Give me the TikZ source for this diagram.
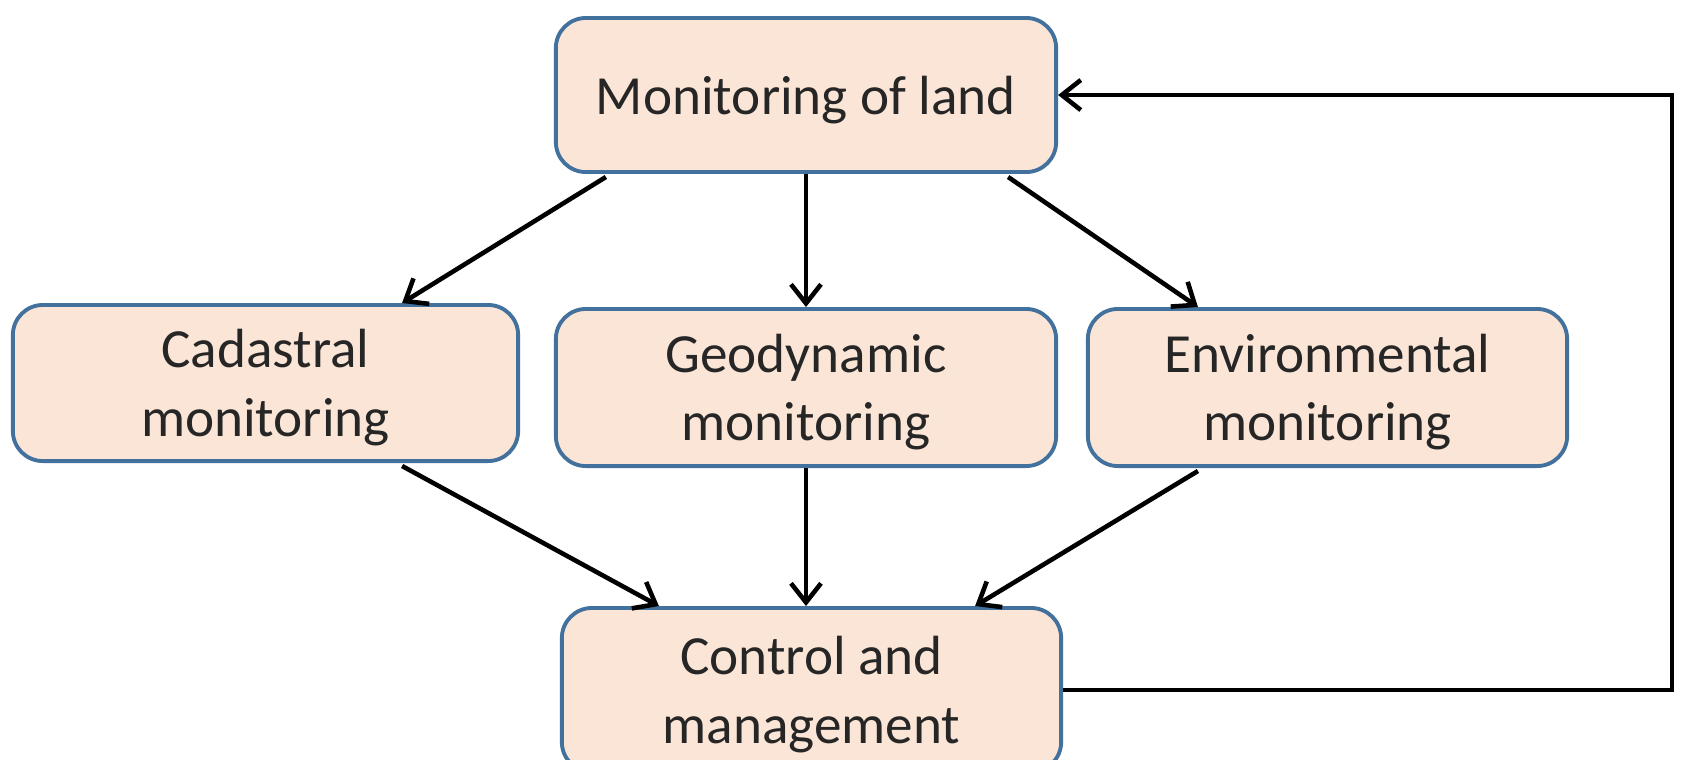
\documentclass[tikz,border=0pt]{standalone}
\usepackage{fontspec}
\setmainfont{Carlito}
\usetikzlibrary{positioning, arrows.meta}

\definecolor{boxfill}{HTML}{FBE5D6}
\definecolor{boxline}{HTML}{41719C}

\begin{document}
\begin{tikzpicture}[
                x=0.01cm, y=-0.01cm,
                box/.style={
                        draw=boxline,
                        fill=boxfill,
                        line width=1.1pt,
                        rounded corners=0.3cm,
                        align=center,
                        inner sep=0pt,
                        text depth=0pt,
                        font=\fontsize{15.7}{19.5}\selectfont,
                        text=black!85
                    },
                flow/.style={-{Straight Barb[length=1.9mm,width=3mm]}, line width=1.3pt}
            ]

            \useasboundingbox (0,0) rectangle (1681,759);

            \node[box, minimum width=5cm, minimum height=1.54cm] (land) at (806,95) {Monitoring of land};
            \node[box, minimum width=5.05cm, minimum height=1.56cm] (cad) at (265.5,383) {Cadastral\\monitoring};
            \node[box, minimum width=5cm, minimum height=1.57cm] (geo) at (806,387.5) {Geodynamic\\monitoring};
            \node[box, minimum width=4.79cm, minimum height=1.57cm] (env) at (1327.5,387.5) {Environmental\\monitoring};
            \node[box, minimum width=4.99cm, minimum height=1.64cm] (ctrl) at (811.5,690) {Control and\\management};

            \coordinate (fb) at (1672,0);

            \draw[flow] ([xshift=-2cm,yshift=-0.03cm]land.south) -- ([xshift=1.365cm]cad.north);
            \draw[flow] (land.south) -- (geo.north);
            \draw[flow] ([xshift=2.02cm,yshift=-0.03cm]land.south) -- ([xshift=-1.295cm]env.north);

            \draw[flow] ([xshift=1.365cm,yshift=-0.03cm]cad.south) -- ([xshift=-1.525cm]ctrl.north);
            \draw[flow] (geo.south) -- (geo.south |- ctrl.north);
            \draw[flow] ([xshift=-1.295cm,yshift=-0.03cm]env.south) -- ([xshift=1.635cm]ctrl.north);

            \draw[flow] (ctrl.east) -| (fb |- land.east) -- (land.east);

        \end{tikzpicture}
\end{document}
